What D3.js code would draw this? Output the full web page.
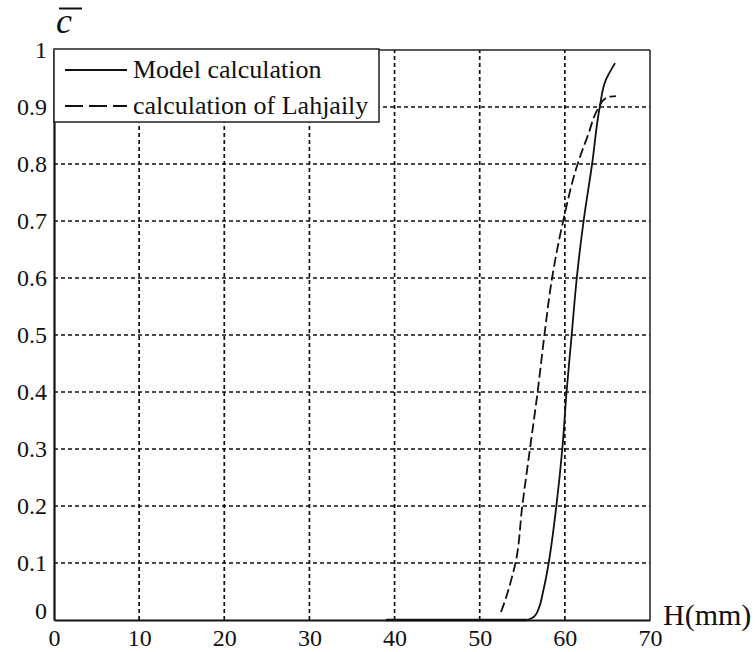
<!DOCTYPE html>
<html>
<head>
<meta charset="utf-8">
<script src="https://cdn.jsdelivr.net/npm/d3@7"></script>
<style>
  body { margin: 0; background: #fff; }
  svg text { font-family: "Liberation Serif", "DejaVu Serif", serif; fill: #111; }
</style>
</head>
<body>
<div id="chart"></div>
<script>
// data
const xTicks = [0, 10, 20, 30, 40, 50, 60, 70];
const yTicks = [0, 0.1, 0.2, 0.3, 0.4, 0.5, 0.6, 0.7, 0.8, 0.9, 1];

const modelH = [39, 45, 50, 55.6, 56.4, 57.0, 57.4, 57.8, 58.1, 59.0, 59.7, 60.2, 60.8, 61.4, 62.2, 63.2, 64.1, 64.8, 65.9];
const modelC = [0, 0, 0, 0, 0.006, 0.023, 0.047, 0.075, 0.1, 0.2, 0.3, 0.4, 0.5, 0.6, 0.7, 0.8, 0.9, 0.947, 0.977];

const lahjH = [52.5, 53.0, 53.6, 54.2, 55.0, 55.9, 56.8, 57.6, 58.5, 59.8, 61.5, 62.7, 64.0, 64.6, 65.2, 66.0];
const lahjC = [0.014, 0.035, 0.065, 0.1, 0.2, 0.3, 0.4, 0.5, 0.6, 0.7, 0.8, 0.85, 0.9, 0.913, 0.918, 0.919];

const legendLabels = ["Model calculation", "calculation of Lahjaily"];

// layout
const width = 755,
    height = 652,
    margin = { top: 50, right: 105, bottom: 32, left: 54 };

const serif = '"Liberation Serif", "DejaVu Serif", serif';

const svg = d3.select("#chart")
    .append("svg")
    .attr("width", width)
    .attr("height", height);

const xScale = d3.scaleLinear()
    .domain([0, 70])
    .range([margin.left, width - margin.right]);

const yScale = d3.scaleLinear()
    .domain([0, 1])
    .range([height - margin.bottom, margin.top]);

// grid
svg.append("g")
    .selectAll("line")
    .data(xTicks.slice(1, -1))
    .join("line")
    .attr("x1", d => xScale(d)).attr("x2", d => xScale(d))
    .attr("y1", yScale(0)).attr("y2", yScale(1))
    .attr("stroke", "#111")
    .attr("stroke-width", 1.7)
    .attr("stroke-dasharray", "4,3");

svg.append("g")
    .selectAll("line")
    .data(yTicks.slice(1, -1))
    .join("line")
    .attr("x1", xScale(0)).attr("x2", xScale(70))
    .attr("y1", d => yScale(d)).attr("y2", d => yScale(d))
    .attr("stroke", "#111")
    .attr("stroke-width", 1.7)
    .attr("stroke-dasharray", "4,3");

// box: top and right thinner
svg.append("line")
    .attr("x1", xScale(0)).attr("x2", xScale(70))
    .attr("y1", yScale(1)).attr("y2", yScale(1))
    .attr("stroke", "#222").attr("stroke-width", 1.5);
svg.append("line")
    .attr("x1", xScale(70)).attr("x2", xScale(70))
    .attr("y1", yScale(1)).attr("y2", yScale(0))
    .attr("stroke", "#222").attr("stroke-width", 1.5);

// axes
const xAxis = d3.axisBottom(xScale).tickValues(xTicks).tickSize(0).tickPadding(9);
const yAxis = d3.axisLeft(yScale).tickValues(yTicks).tickSize(0).tickPadding(7)
    .tickFormat(d => d3.format("")(d));

const gx = svg.append("g")
    .attr("transform", `translate(0,${yScale(0)})`)
    .call(xAxis);
gx.select(".domain").attr("stroke", "#111").attr("stroke-width", 2.2);
gx.selectAll("text")
    .style("font-family", serif)
    .style("font-size", "24px")
    .attr("fill", "#111");

const gy = svg.append("g")
    .attr("transform", `translate(${xScale(0)},0)`)
    .call(yAxis);
gy.select(".domain").attr("stroke", "#111").attr("stroke-width", 2.2);
gy.selectAll("text")
    .style("font-family", serif)
    .style("font-size", "24px")
    .attr("fill", "#111");
// the "0" at the bottom sits a bit higher
gy.selectAll(".tick").filter(d => d === 0).select("text").attr("dy", "-0.05em");

// curves
const lineFlat = d3.line().x(d => xScale(d[0])).y(d => yScale(d[1]));
const lineSmooth = d3.line().x(d => xScale(d[0])).y(d => yScale(d[1])).curve(d3.curveMonotoneY);

const model = modelH.map((h, i) => [h, modelC[i]]);
const lahj = lahjH.map((h, i) => [h, lahjC[i]]);

// flat part of the model curve drawn on top of the axis
svg.append("path")
    .datum(model.slice(0, 4))
    .attr("d", lineFlat)
    .attr("fill", "none")
    .attr("stroke", "#111")
    .attr("stroke-width", 2.6);

svg.append("path")
    .datum(model.slice(3))
    .attr("d", lineSmooth)
    .attr("fill", "none")
    .attr("stroke", "#111")
    .attr("stroke-width", 1.8);

svg.append("path")
    .datum(lahj)
    .attr("d", lineSmooth)
    .attr("fill", "none")
    .attr("stroke", "#111")
    .attr("stroke-width", 1.8)
    .attr("stroke-dasharray", "10,4");

// legend
const legend = svg.append("g");
legend.append("rect")
    .attr("x", 54).attr("y", 49)
    .attr("width", 325).attr("height", 73)
    .attr("fill", "#fff")
    .attr("stroke", "#222")
    .attr("stroke-width", 1.5);

legend.selectAll(".lgline")
    .data(legendLabels)
    .join("line")
    .attr("class", "lgline")
    .attr("x1", 65).attr("x2", 127)
    .attr("y1", (d, i) => 70 + i * 36)
    .attr("y2", (d, i) => 70 + i * 36)
    .attr("stroke", "#111")
    .attr("stroke-width", 1.8)
    .attr("stroke-dasharray", (d, i) => i === 0 ? null : "18,6");

legend.selectAll(".lgtext")
    .data(legendLabels)
    .join("text")
    .attr("class", "lgtext")
    .attr("x", 133)
    .attr("y", (d, i) => 78 + i * 36)
    .style("font-family", serif)
    .style("font-size", "26px")
    .text(d => d);

// axis titles
svg.append("text")
    .attr("x", 663)
    .attr("y", 625)
    .style("font-family", serif)
    .style("font-size", "30px")
    .text("H(mm)");

svg.append("text")
    .attr("x", 56)
    .attr("y", 33)
    .style("font-family", serif)
    .style("font-size", "36px")
    .style("font-style", "italic")
    .text("c");
svg.append("line")
    .attr("x1", 59).attr("x2", 82)
    .attr("y1", 8.5).attr("y2", 8.5)
    .attr("stroke", "#111")
    .attr("stroke-width", 2);
</script>
</body>
</html>
